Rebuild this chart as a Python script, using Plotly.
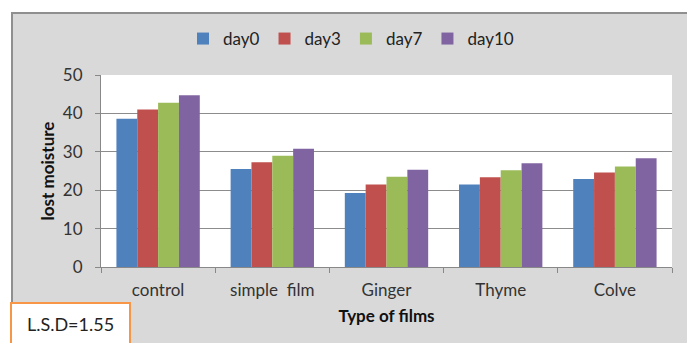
import plotly.graph_objects as go

categories = ["control", "simple  film", "Ginger", "Thyme", "Colve"]
series_names = ["day0", "day3", "day7", "day10"]
day0 = [38.6, 25.5, 19.3, 21.5, 22.9]
day3 = [41.0, 27.3, 21.5, 23.4, 24.6]
day7 = [42.8, 29.0, 23.5, 25.2, 26.2]
day10 = [44.7, 30.8, 25.3, 27.0, 28.3]
colors = ["#4F81BD", "#C0504D", "#9BBB59", "#8064A2"]
y_ticks = [0, 10, 20, 30, 40, 50]

W, H = 687, 343
L, R, T, B = 101, 15, 75, 76
pw, ph = W - L - R, H - T - B

def px(x):
    return (x - L) / pw

def py(y):
    return (H - B - y) / ph

fig = go.Figure()
for name, vals, c in zip(series_names, [day0, day3, day7, day10], colors):
    fig.add_trace(go.Bar(name=name, x=categories, y=vals, marker=dict(color=c, line=dict(width=0))))

font = "Lato, Carlito, Calibri, sans-serif"
fig.update_layout(
    width=W, height=H,
    margin=dict(l=L, r=R, t=T, b=B),
    paper_bgcolor="#D9D9D9",
    plot_bgcolor="white",
    barmode="group", bargap=0.27, bargroupgap=0,
    font=dict(family=font, size=14, color="#222"),
    legend=dict(orientation="h", x=px(351), xanchor="center", y=py(39), yanchor="middle",
                font=dict(size=17, color="#222"), bgcolor="rgba(0,0,0,0)", itemwidth=30,
                tracegroupgap=0),
    xaxis=dict(showline=True, linecolor="#888", linewidth=1, ticks="outside", tickson="boundaries",
               tickcolor="#888", ticklen=5, showgrid=False, ticklabelstandoff=8,
               title=dict(text="<b>Type of films</b>", font=dict(size=17, color="#111"), standoff=10),
               tickfont=dict(size=17, color="#333")),
    yaxis=dict(range=[0, 50], tickvals=y_ticks, showline=True, linecolor="#888", linewidth=1,
               ticks="outside", tickcolor="#888", ticklen=5, showgrid=True, gridcolor="#8c8c8c",
               gridwidth=1, zeroline=False, ticklabelstandoff=9,
               title=dict(text="<b>lost moisture</b>", font=dict(size=17, color="#111"), standoff=3),
               tickfont=dict(size=17, color="#333")),
    showlegend=True,
)

# white outside the chart area (top and left strips) and chart border
fig.add_shape(type="rect", xref="paper", yref="paper", x0=px(-5), x1=px(W + 5), y0=py(12), y1=py(-5),
              fillcolor="white", line=dict(width=0), layer="above")
fig.add_shape(type="rect", xref="paper", yref="paper", x0=px(-5), x1=px(11), y0=py(H + 5), y1=py(-5),
              fillcolor="white", line=dict(width=0), layer="above")
fig.add_shape(type="line", xref="paper", yref="paper", x0=px(11), x1=px(W + 5), y0=py(13), y1=py(13),
              line=dict(color="#8f8f8f", width=2), layer="above")
fig.add_shape(type="line", xref="paper", yref="paper", x0=px(12), x1=px(12), y0=py(12), y1=py(H + 5),
              line=dict(color="#8f8f8f", width=2), layer="above")

fig.add_annotation(text="L.S.D=1.55", xref="paper", yref="paper", x=px(70), y=py(324),
                   showarrow=False, font=dict(size=18, color="#222", family=font),
                   bgcolor="white", bordercolor="#F79646", borderwidth=2, width=115, height=38,
                   xanchor="center", yanchor="middle")

fig.write_html("out.html")
